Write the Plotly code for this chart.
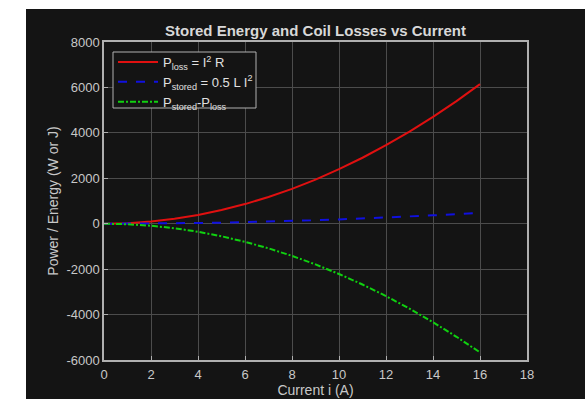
import plotly.graph_objects as go

current = [0, 1, 2, 3, 4, 5, 6, 7, 8, 9, 10, 11, 12, 13, 14, 15, 16]
p_loss = [0, 24, 96, 216, 384, 600, 864, 1176, 1536, 1944, 2400, 2904, 3456, 4056, 4704, 5400, 6144]
p_stored = [0, 1.9, 7.5, 16.9, 30, 46.9, 67.5, 91.9, 120, 151.9, 187.5, 226.9, 270, 316.9, 367.5, 421.9, 480]
p_diff = [0, -22, -89, -199, -354, -553, -797, -1084, -1416, -1792, -2213, -2677, -3186, -3739, -4337, -4978, -5664]

x_ticks = [0, 2, 4, 6, 8, 10, 12, 14, 16, 18]
y_ticks = [-6000, -4000, -2000, 0, 2000, 4000, 6000, 8000]

BG = "#141414"
TXT = "#c8c8c8"
FONT = "Liberation Sans, Arial, sans-serif"

# plot area in pixels: x 104..527, y 42..360
PW, PH = 423.0, 318.0

fig = go.Figure()
fig.add_trace(go.Scatter(x=current, y=p_loss, mode="lines", name="P<sub>loss</sub> = I<sup>2</sup> R",
                         line=dict(color="#e01010", width=2, dash="solid")))
fig.add_trace(go.Scatter(x=current, y=p_stored, mode="lines", name="P<sub>stored</sub> = 0.5 L I<sup>2</sup>",
                         line=dict(color="#1010e0", width=2, dash="dash")))
fig.add_trace(go.Scatter(x=current, y=p_diff, mode="lines", name="P<sub>stored</sub>-P<sub>loss</sub>",
                         line=dict(color="#10d010", width=2, dash="6px,2px,2px,2px")))

fig.update_layout(
    width=585, height=399,
    margin=dict(l=104, r=58, t=42, b=39, autoexpand=False),
    paper_bgcolor=BG,
    plot_bgcolor=BG,
    font=dict(family=FONT, color=TXT, size=13),
    title=dict(text="<b>Stored Energy and Coil Losses vs Current</b>", x=0.5, xanchor="center",
               xref="paper", y=1, yref="paper", yanchor="bottom", pad=dict(b=6),
               font=dict(size=15, color="#d8d8d8", family=FONT)),
    showlegend=True,
    legend=dict(x=(113 - 104) / PW, y=1 - (47 - 42) / PH, xanchor="left", yanchor="top",
                bgcolor="rgba(0,0,0,0)", borderwidth=0,
                font=dict(size=13, color="#e0e0e0", family=FONT),
                tracegroupgap=0, itemwidth=40),
    shapes=[
        # white page strips (left and top) around the dark figure
        dict(type="rect", xref="paper", yref="paper", layer="below",
             x0=-110 / PW, x1=-78 / PW, y0=-60 / PH, y1=1 + 60 / PH,
             fillcolor="white", line=dict(width=0)),
        dict(type="rect", xref="paper", yref="paper", layer="below",
             x0=-110 / PW, x1=1 + 80 / PW, y0=1 + (42 - 9) / PH, y1=1 + 60 / PH,
             fillcolor="white", line=dict(width=0)),
        # legend box
        dict(type="rect", xref="paper", yref="paper", layer="above",
             x0=(113 - 104) / PW, x1=(256 - 104) / PW, y0=1 - (108 - 42) / PH, y1=1 - (52 - 42) / PH,
             fillcolor=BG, line=dict(color="#b0b0b0", width=1)),
    ],
)

fig.update_xaxes(range=[0, 18], tickvals=x_ticks, ticktext=[str(v) for v in x_ticks],
                 showgrid=True, gridcolor="#4c4c4c", gridwidth=1,
                 showline=True, linecolor="#b0b0b0", linewidth=1.5, mirror=True,
                 ticks="inside", ticklen=4, tickcolor="#b0b0b0", zeroline=False,
                 automargin=False, ticklabelstandoff=2,
                 title=dict(text="Current i (A)", standoff=0, font=dict(size=14, color=TXT)),
                 tickfont=dict(size=13, color=TXT))
fig.update_yaxes(range=[-6000, 8000], tickvals=y_ticks, ticktext=[str(v) for v in y_ticks],
                 showgrid=True, gridcolor="#4c4c4c", gridwidth=1,
                 showline=True, linecolor="#b0b0b0", linewidth=1.5, mirror=True,
                 ticks="inside", ticklen=4, tickcolor="#b0b0b0", zeroline=False,
                 automargin=False,
                 title=dict(text="Power / Energy (W or J)", standoff=5, font=dict(size=14, color=TXT)),
                 tickfont=dict(size=13, color=TXT))

html = fig.to_html(include_plotlyjs=True, full_html=True)
html = html.replace("<head>", "<head><style>html,body{margin:0;padding:0;background:#141414;overflow:hidden;}</style>", 1)
with open("out.html", "w", encoding="utf-8") as f:
    f.write(html)
